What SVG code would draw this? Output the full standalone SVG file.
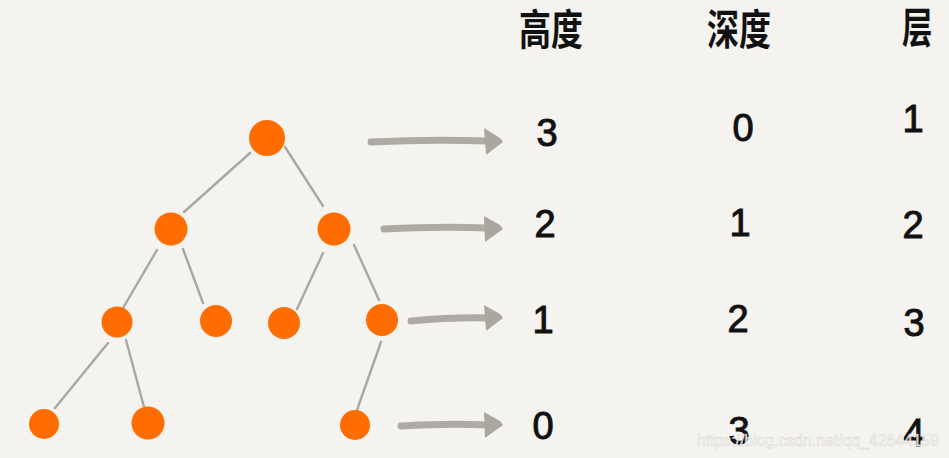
<svg xmlns="http://www.w3.org/2000/svg" width="949" height="458" viewBox="0 0 949 458">
<defs>
<style>
.node{fill:#ff6d00}
.edge{stroke:#a9a7a1;stroke-width:2.4;stroke-linecap:round;fill:none}
.arr{stroke:#aeaba4;stroke-width:7;stroke-linecap:round;fill:none}
.head{fill:#aaa79f}
.hd{font-family:"Noto Sans CJK SC",sans-serif;font-size:32px;font-weight:700;fill:#111}
.num{font-family:"Liberation Sans","DejaVu Sans",sans-serif;font-size:38px;fill:#111;stroke:#111;stroke-width:1;text-anchor:middle}
.wm{font-family:"Liberation Sans",sans-serif;font-size:17px;fill:#ffffff;stroke:#d6d4cf;stroke-width:0.6;opacity:0.9}
</style>
</defs>
<rect width="949" height="458" fill="#f5f3ef"/>
<g id="connectors">
<line class="edge" x1="250" y1="153" x2="184" y2="212"/>
<line class="edge" x1="285" y1="147" x2="323" y2="206"/>
<line class="edge" x1="157" y1="250" x2="123" y2="308"/>
<line class="edge" x1="183" y1="249" x2="203" y2="303"/>
<line class="edge" x1="323" y1="253" x2="297" y2="309"/>
<line class="edge" x1="354" y1="245" x2="379" y2="300"/>
<line class="edge" x1="108" y1="343" x2="55" y2="408"/>
<line class="edge" x1="126" y1="340" x2="144" y2="407"/>
<line class="edge" x1="381" y1="342" x2="357" y2="410"/>
<path class="arr" d="M371 142 Q430 139 488 141"/>
<polygon class="head" points="484,128 500,138 503,142 486,155"/>
<path class="arr" d="M384 229 Q440 226 488 228"/>
<polygon class="head" points="484,216 500,225 503,229 485,242"/>
<path class="arr" d="M411 321 Q455 317 488 318"/>
<polygon class="head" points="484,305 500,314 503,318 486,331"/>
<path class="arr" d="M401 426 Q450 423 488 425"/>
<polygon class="head" points="484,412 500,421 503,425 485,438"/>
</g>
<g id="n1"><circle class="node" cx="267" cy="138" r="18"/></g>
<g id="n2"><circle class="node" cx="171" cy="229" r="16.5"/></g>
<g id="n3"><circle class="node" cx="334" cy="229" r="16.5"/></g>
<g id="n4"><circle class="node" cx="117" cy="322" r="15.5"/></g>
<g id="n5"><circle class="node" cx="216" cy="321" r="16"/></g>
<g id="n6"><circle class="node" cx="284" cy="323" r="16"/></g>
<g id="n7"><circle class="node" cx="382" cy="320" r="16"/></g>
<g id="n8"><circle class="node" cx="44" cy="424" r="15"/></g>
<g id="n9"><circle class="node" cx="148" cy="423" r="16.5"/></g>
<g id="n10"><circle class="node" cx="355" cy="425" r="15"/></g>
<g id="headers">
<text class="hd" transform="translate(519,45) scale(1,1.3)">高度</text>
<text class="hd" transform="translate(707,45) scale(1,1.3)">深度</text>
<text class="hd" transform="translate(902,43) scale(0.95,1.3)">层</text>
</g>
<g id="table">
<text class="num" x="547" y="146">3</text>
<text class="num" x="545" y="237">2</text>
<text class="num" x="543" y="333">1</text>
<text class="num" x="543" y="439">0</text>
<text class="num" x="743" y="141">0</text>
<text class="num" x="740" y="236">1</text>
<text class="num" x="738" y="332">2</text>
<text class="num" x="739" y="444">3</text>
<text class="num" x="913" y="132">1</text>
<text class="num" x="913" y="238">2</text>
<text class="num" x="914" y="336">3</text>
<text class="num" x="914" y="446">4</text>
</g>
<text class="wm" x="697" y="446" textLength="242" lengthAdjust="spacingAndGlyphs">https://blog.csdn.net/qq_42644159</text>
</svg>
